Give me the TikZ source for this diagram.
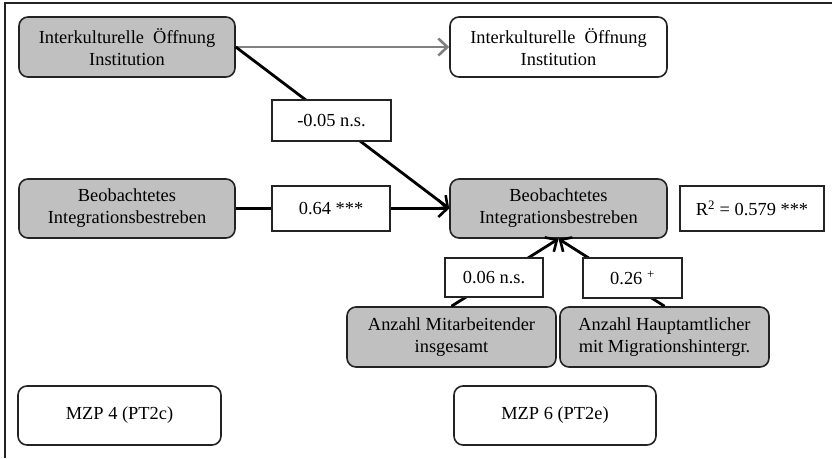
\documentclass[tikz,border=0pt]{standalone}
\usepackage{fontspec}
\setmainfont{Liberation Serif}
\usetikzlibrary{arrows.meta}
\definecolor{boxgray}{RGB}{192,192,192}
\definecolor{linegray}{RGB}{128,128,128}
\definecolor{edge}{RGB}{35,35,35}
\tikzset{
  var/.style={draw=edge, line width=1.6pt, rounded corners=9pt, align=center, inner sep=0pt,
    font=\fontsize{18.4}{22}\selectfont},
  obs/.style={var, fill=boxgray},
  lat/.style={var, fill=white},
  coef/.style={draw=edge, line width=1.6pt, fill=white, align=center, inner sep=0pt,
    font=\fontsize{18.4}{22}\selectfont},
  path/.style={line width=2.8pt, black, -{Straight Barb[length=9pt,width=17pt,line width=2.6pt]}},
  gpath/.style={line width=2.8pt, linegray, -{Straight Barb[length=9pt,width=17pt,line width=2.6pt]}},
}
\begin{document}
\begin{tikzpicture}[x=1pt,y=-1pt]
\useasboundingbox (0,0) rectangle (832,458);
\draw[draw=edge, line width=1.5pt] (5,458) coordinate (fl) -- (5,3) coordinate (fc) -- (832,3) coordinate (fr);
\node[obs, minimum width=216pt, minimum height=60pt] (A) at (127,47) {Interkulturelle~ Öffnung\\Institution};
\node[lat, minimum width=217pt, minimum height=60pt] (B) at (558.5,47) {Interkulturelle~ Öffnung\\Institution};
\node[obs, minimum width=216pt, minimum height=59pt] (C) at (127,208.5) {Beobachtetes\\Integrationsbestreben};
\node[obs, minimum width=217pt, minimum height=59pt] (D) at (558.5,208.5) {Beobachtetes\\Integrationsbestreben};
\node[obs, minimum width=209pt, minimum height=60pt] (E) at (451.5,337) {Anzahl Mitarbeitender\\insgesamt};
\node[obs, minimum width=209pt, minimum height=60pt] (F) at (664.5,337) {Anzahl Hauptamtlicher\\mit Migrationshintergr.};
\node[lat, minimum width=202pt, minimum height=59pt] (M6) at (555,415.5) {MZP 6 (PT2e)};
\node[lat, minimum width=203pt, minimum height=59pt] (M4) at (119.5,415.5) {MZP 4 (PT2c)};
\node[coef, minimum width=144pt, minimum height=45pt] (R) at (752,208.5) {R\textsuperscript{2} = 0.579 ***};
\draw[gpath] (A.east) -- (B.west);
\draw[path] (A.east) -- (D.west);
\draw[path] (C.east) -- (D.west);
\draw[path] (E.north) -- (D.south);
\draw[path] (F.north) -- (D.south);
\node[coef, minimum width=119pt, minimum height=41pt] (L1) at (331.5,120.5) {-0.05 n.s.};
\node[coef, minimum width=118pt, minimum height=45pt] (L2) at (331,208.5) {0.64 ***};
\node[coef, minimum width=98pt, minimum height=39pt] (L3) at (494,277.5) {0.06 n.s.};
\node[coef, minimum width=99pt, minimum height=40pt] (L4) at (632.5,278) {0.26 \textsuperscript{+}};
\end{tikzpicture}
\end{document}
